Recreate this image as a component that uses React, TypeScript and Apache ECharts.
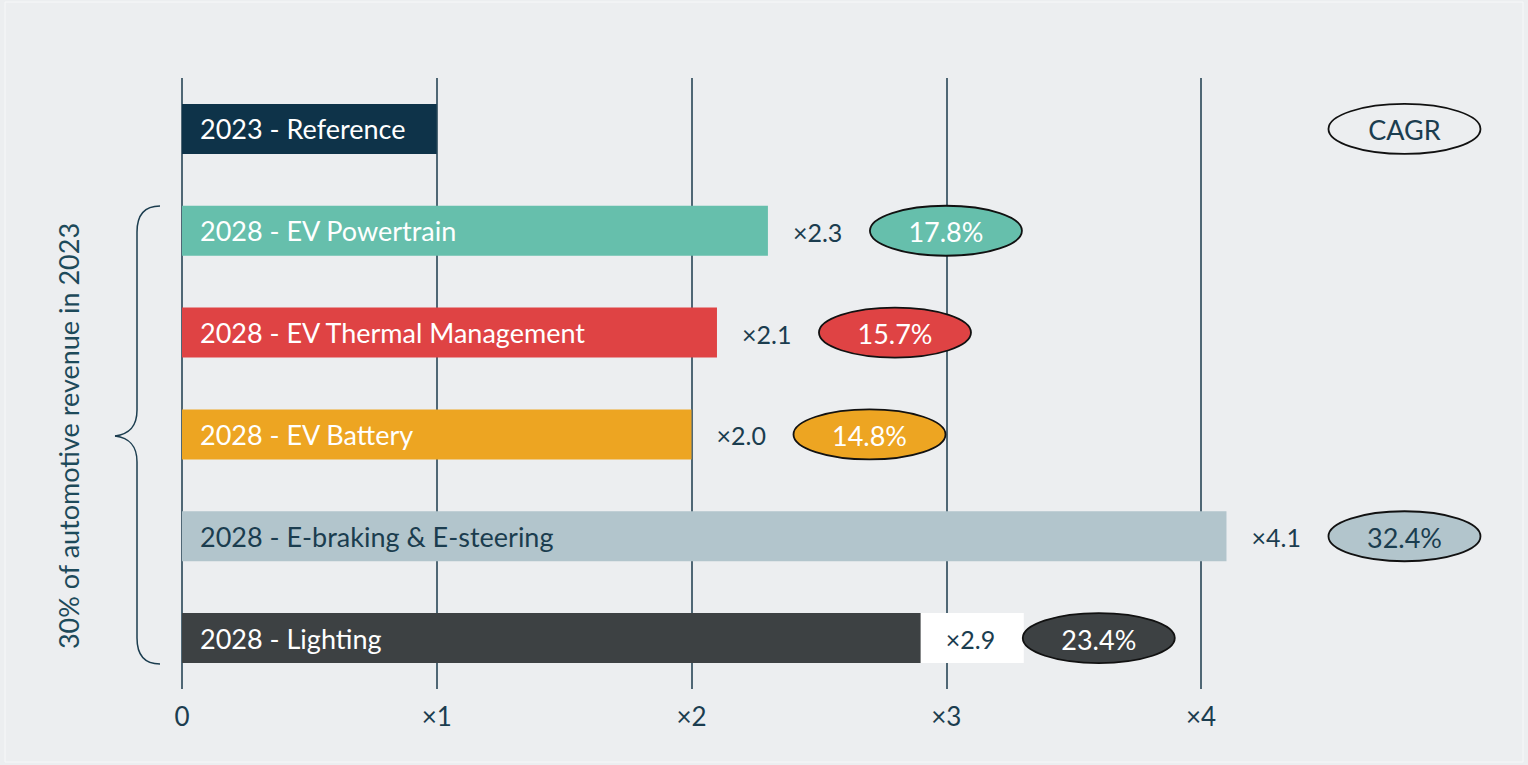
import React, { useEffect, useRef } from "react";
import * as echarts from "echarts";

const categories = [
  "2023 - Reference",
  "2028 - EV Powertrain",
  "2028 - EV Thermal Management",
  "2028 - EV Battery",
  "2028 - E-braking & E-steering",
  "2028 - Lighting",
];
const multiples = [1.0, 2.3, 2.1, 2.0, 4.1, 2.9];
const cagrValues = [null, 17.8, 15.7, 14.8, 32.4, 23.4];
const cagrHeader = "CAGR";
const xTicks = [0, 1, 2, 3, 4];
const sideNote = "30% of automotive revenue in 2023";

const barColors = ["#0e3349", "#66bfac", "#df4344", "#eda522", "#b2c5cc", "#3d4143"];
const barTextColors = ["#ffffff", "#ffffff", "#ffffff", "#ffffff", "#1b3d4f", "#ffffff"];
const ellipseTextColors = ["#1b3d4f", "#ffffff", "#ffffff", "#ffffff", "#1b3d4f", "#ffffff"];
const boxedLabel = [false, false, false, false, false, true];

const NAVY = "#1b3d4f";
const BG = "#eceef0";
const FONT = "Lato, 'Open Sans', sans-serif";

export default function App() {
  const ref = useRef<HTMLDivElement>(null);

  useEffect(() => {
    document.body.style.margin = "0";
    const chart = echarts.init(ref.current!, null, { renderer: "svg" });
    const maxMult = Math.max(...multiples);

    const renderItem = (params: any, api: any) => {
      const idx = params.dataIndex;
      const v = api.value(0);
      const p = api.coord([v, idx]);
      const barH = 50;
      const children: any[] = [];
      if (idx > 0) {
        if (boxedLabel[idx]) {
          children.push({
            type: "rect",
            shape: { x: p[0], y: p[1] - barH / 2, width: 103, height: barH },
            style: { fill: "#ffffff" },
          });
        }
        children.push({
          type: "text",
          x: p[0] + 25,
          y: p[1] + 1,
          style: {
            text: "×" + v.toFixed(1),
            fill: NAVY,
            font: `25px ${FONT}`,
            verticalAlign: "middle",
            align: "left",
          },
        });
      }
      const ep = idx === 0 ? api.coord([maxMult, idx]) : p;
      const cx = ep[0] + 178;
      children.push({
        type: "ellipse",
        shape: { cx, cy: p[1], rx: 76, ry: 25 },
        style: {
          fill: idx === 0 ? "rgba(0,0,0,0)" : barColors[idx],
          stroke: "#111111",
          lineWidth: 1.8,
        },
      });
      children.push({
        type: "text",
        x: cx,
        y: p[1] + 1,
        style: {
          text: idx === 0 ? cagrHeader : (cagrValues[idx] as number).toFixed(1) + "%",
          fill: ellipseTextColors[idx],
          font: `27px ${FONT}`,
          align: "center",
          verticalAlign: "middle",
        },
      });
      return { type: "group", children };
    };

    // brace geometry
    const bx = 137;
    const top = 206;
    const bot = 664;
    const mid = 436;
    const tip = 115;
    const endX = 160;
    const braceStyle = { stroke: NAVY, lineWidth: 1.5, fill: "none" };

    chart.setOption({
      animation: false,
      backgroundColor: BG,
      grid: { left: 182, width: 1019, top: 78, height: 611, containLabel: false },
      xAxis: {
        type: "value",
        min: 0,
        max: 4,
        interval: 1,
        axisLine: { show: false },
        axisTick: { show: false },
        splitLine: { show: true, lineStyle: { color: "#1b3a4c", width: 1.5 } },
        axisLabel: {
          margin: 14,
          color: NAVY,
          fontSize: 26,
          fontFamily: FONT,
          formatter: (v: number) => (v === 0 ? "0" : "×" + v),
          customValues: xTicks,
        },
      },
      yAxis: {
        type: "category",
        data: categories,
        inverse: true,
        axisLine: { show: false },
        axisTick: { show: false },
        axisLabel: { show: false },
        splitLine: { show: false },
      },
      series: [
        {
          type: "bar",
          data: multiples.map((m, i) => ({
            value: m,
            itemStyle: { color: barColors[i] },
            label: { color: barTextColors[i] },
          })),
          barWidth: 50,
          clip: false,
          z: 2,
          label: {
            show: true,
            position: "insideLeft",
            distance: 18,
            formatter: "{b}",
            fontSize: 27,
            fontFamily: FONT,
          },
        },
        {
          type: "custom",
          data: multiples.map((m, i) => [m, i]),
          encode: { x: 0, y: 1 },
          renderItem,
          clip: false,
          z: 3,
        },
      ],
      graphic: [
        {
          type: "rect",
          shape: { x: 5, y: 2, width: 1518, height: 760 },
          style: { fill: "none", stroke: "#f7f8f9", lineWidth: 1 },
          silent: true,
        },
        {
          type: "text",
          x: 68,
          y: mid,
          rotation: Math.PI / 2,
          style: {
            text: sideNote,
            fill: "#1d4a5a",
            font: `27px ${FONT}`,
            align: "center",
            verticalAlign: "middle",
          },
        },
        {
          type: "bezierCurve",
          shape: { x1: endX, y1: top, cpx1: 145, cpy1: top, cpx2: bx, cpy2: top + 8, x2: bx, y2: top + 26 },
          style: braceStyle,
        },
        { type: "line", shape: { x1: bx, y1: top + 26, x2: bx, y2: mid - 26 }, style: braceStyle },
        {
          type: "bezierCurve",
          shape: { x1: bx, y1: mid - 26, cpx1: bx, cpy1: mid - 10, cpx2: 130, cpy2: mid - 2, x2: tip, y2: mid },
          style: braceStyle,
        },
        {
          type: "bezierCurve",
          shape: { x1: tip, y1: mid, cpx1: 130, cpy1: mid + 2, cpx2: bx, cpy2: mid + 10, x2: bx, y2: mid + 26 },
          style: braceStyle,
        },
        { type: "line", shape: { x1: bx, y1: mid + 26, x2: bx, y2: bot - 26 }, style: braceStyle },
        {
          type: "bezierCurve",
          shape: { x1: bx, y1: bot - 26, cpx1: bx, cpy1: bot - 8, cpx2: 145, cpy2: bot, x2: endX, y2: bot },
          style: braceStyle,
        },
      ],
    });

    return () => chart.dispose();
  }, []);

  return (
    <div
      ref={ref}
      style={{ position: "fixed", left: 0, top: 0, width: 1528, height: 765 }}
    />
  );
}
